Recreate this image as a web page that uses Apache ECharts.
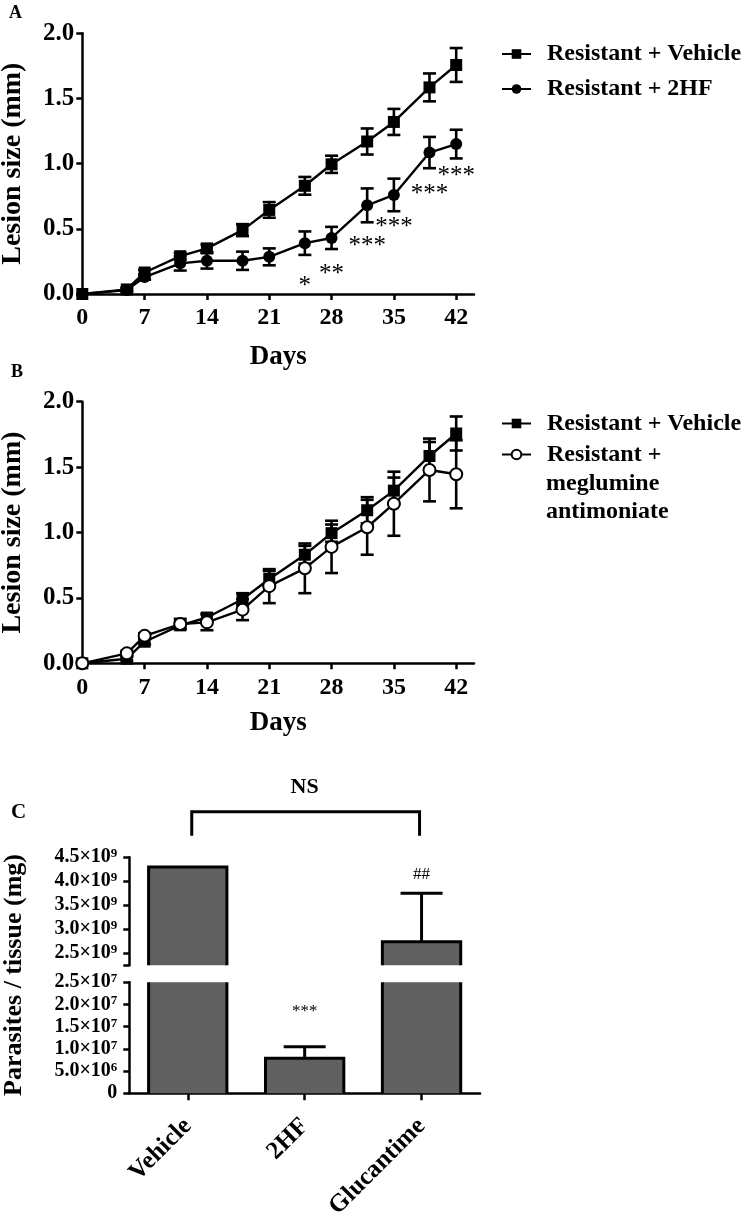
<!DOCTYPE html>
<html><head><meta charset="utf-8">
<script src="https://cdn.jsdelivr.net/npm/echarts@6/dist/echarts.min.js"></script>
<style>html,body{margin:0;padding:0;background:#fff}#c{width:750px;height:1213px}</style>
</head><body><div id="c"></div>
<script>
// ---------- data ----------
const days = [0, 5, 7, 11, 14, 18, 21, 25, 28, 32, 35, 39, 42];
const vehicleMean = [0, 0.035, 0.165, 0.29, 0.35, 0.49, 0.645, 0.83, 0.995, 1.17, 1.32, 1.585, 1.757];
const vehicleSem  = [0, 0.015, 0.02, 0.025, 0.03, 0.046, 0.06, 0.068, 0.066, 0.10, 0.10, 0.107, 0.13];
const hfMean = [0, 0.03, 0.13, 0.235, 0.255, 0.255, 0.285, 0.39, 0.43, 0.68, 0.76, 1.085, 1.15];
const hfSem  = [0, 0.01, 0.02, 0.055, 0.06, 0.07, 0.065, 0.09, 0.085, 0.13, 0.125, 0.12, 0.11];
const megMean = [0, 0.076, 0.21, 0.30, 0.313, 0.41, 0.59, 0.726, 0.89, 1.04, 1.22, 1.478, 1.445];
const megSem  = [0, 0.02, 0.02, 0.04, 0.06, 0.08, 0.13, 0.19, 0.20, 0.21, 0.245, 0.24, 0.26];
const dayTicks = [0, 7, 14, 21, 28, 35, 42];
const sigDays = [25, 28, 32, 35, 39, 42];
const sigMarks = ['*', '**', '***', '***', '***', '***'];
const sigLevels = [0.10, 0.19, 0.40, 0.55, 0.80, 0.94];

const barCats = ['Vehicle', '2HF', 'Glucantime'];
const barVals = [4.3e9, 7.9e6, 2.74e9];
const barErr  = [0, 2.6e6, 1.01e9];
const upperLabelTicks = [2.5e9, 3.0e9, 3.5e9, 4.0e9, 4.5e9];
const upperTickMarks = [2.25e9, 2.5e9, 3.0e9, 3.5e9, 4.0e9, 4.5e9];
const lowerTicks = [0, 5e6, 1e7, 1.5e7, 2e7, 2.5e7];
const nsPair = [0, 2];
const nsBarLevel = 5.45e9;
const nsLegLevel = 4.95e9;
const nsTextLevel = 5.96e9;
const hfMarkLevel = 1.91e7;
const glucMarkLevel = 4.15e9;

const NAME_VEH = 'Resistant + Vehicle';
const NAME_HF = 'Resistant + 2HF';
const NAME_MEG = 'Resistant + meglumine antimoniate';

// ---------- helpers ----------
const FF = 'Liberation Serif, Times New Roman, serif';
const K = '#000';

function errRender(params, api) {
  const x = api.value(0), y = api.value(1), e = api.value(2);
  if (!(e > 0)) return null;
  const hi = api.coord([x, y + e]), lo = api.coord([x, y - e]);
  const hw = 6.5;
  const st = { stroke: K, lineWidth: 2.6 };
  return { type: 'group', children: [
    { type: 'line', shape: { x1: hi[0], y1: hi[1], x2: lo[0], y2: lo[1] }, style: st },
    { type: 'line', shape: { x1: hi[0] - hw, y1: hi[1], x2: hi[0] + hw, y2: hi[1] }, style: st },
    { type: 'line', shape: { x1: lo[0] - hw, y1: lo[1], x2: lo[0] + hw, y2: lo[1] }, style: st }
  ]};
}
function errData(mean, sem) { return days.map((d, i) => [d, mean[i], sem[i]]); }
function lineData(mean) { return days.map((d, i) => [d, mean[i]]); }

function barRender(params, api) {
  const cs = params.coordSys;
  const i = api.value(0), v = api.value(1), e = api.value(2);
  const c = api.coord([i, v]);
  const bw = api.size([1, 0])[0] * 0.67;
  const L = c[0] - bw / 2, R = c[0] + bw / 2;
  const B = cs.y + cs.height, T0 = cs.y;
  if (c[1] >= B) return null;
  const cut = c[1] < T0;
  const T = cut ? T0 : c[1];
  const st = { stroke: K, lineWidth: 3, fill: null };
  const ch = [{ type: 'rect', shape: { x: L, y: T, width: bw, height: B - T }, style: { fill: '#606060' } }];
  if (cut) {
    ch.push({ type: 'line', shape: { x1: L, y1: T, x2: L, y2: B }, style: st });
    ch.push({ type: 'line', shape: { x1: R, y1: T, x2: R, y2: B }, style: st });
  } else {
    if (e > 0) {
      const t = api.coord([i, v + e]);
      const hw = 21;
      ch.push({ type: 'line', shape: { x1: c[0], y1: T, x2: c[0], y2: t[1] }, style: st });
      ch.push({ type: 'line', shape: { x1: c[0] - hw, y1: t[1], x2: c[0] + hw, y2: t[1] }, style: st });
    }
    ch.push({ type: 'polyline', shape: { points: [[L, B], [L, T], [R, T], [R, B]] }, style: st });
  }
  return { type: 'group', children: ch };
}
function barData() { return barVals.map((v, i) => [i, v, barErr[i]]); }

function bracketRender(params, api) {
  const a = api.coord([nsPair[0], nsBarLevel]);
  const b = api.coord([nsPair[1], nsBarLevel]);
  const l = api.coord([nsPair[0], nsLegLevel]);
  return { type: 'polyline', shape: { points: [[a[0] + 4, l[1]], [a[0] + 4, a[1]], [b[0] - 2, a[1]], [b[0] - 2, l[1]]] },
    style: { stroke: K, lineWidth: 3, fill: null } };
}

function sci(v) {
  if (v === 0) return '0';
  const e = Math.floor(Math.log10(v) + 1e-9);
  const m = v / Math.pow(10, e);
  return m.toFixed(1) + '×10{s|' + e + '}';
}

const axisLineStyle = { show: true, lineStyle: { color: K, width: 2.5 } };
const tickStyle = { show: true, length: 6, lineStyle: { color: K, width: 2.5 } };
const labelTxt = { color: K, fontFamily: FF, fontWeight: 'bold' };

function daysXAxis(gi, gap) {
  return {
    type: 'value', gridIndex: gi, min: 0, max: 44,
    axisLine: axisLineStyle,
    axisTick: Object.assign({}, tickStyle, { customValues: dayTicks }),
    axisLabel: Object.assign({}, labelTxt, { fontSize: 24, margin: 12, customValues: dayTicks }),
    splitLine: { show: false },
    name: 'Days', nameLocation: 'middle', nameGap: gap,
    nameTextStyle: { color: K, fontFamily: FF, fontWeight: 'bold', fontSize: 27 }
  };
}
function lesionYAxis(gi) {
  return {
    type: 'value', gridIndex: gi, min: 0, max: 2, interval: 0.5,
    axisLine: axisLineStyle, axisTick: tickStyle,
    axisLabel: Object.assign({}, labelTxt, { fontSize: 25, margin: 8, formatter: v => v.toFixed(1) }),
    splitLine: { show: false },
    name: 'Lesion size (mm)', nameLocation: 'middle', nameGap: 56,
    nameTextStyle: { color: K, fontFamily: FF, fontWeight: 'bold', fontSize: 28 }
  };
}
function legendCfg(top, names, gap, fmt) {
  return {
    orient: 'vertical', left: 501, top: top, padding: 0, itemWidth: 29, itemHeight: 12, itemGap: gap,
    data: names, formatter: fmt || (n => n), selectedMode: false,
    textStyle: { color: K, fontFamily: FF, fontWeight: 'bold', fontSize: 24, lineHeight: 25, padding: [0, 0, 0, 11] }
  };
}
const sciLabel = Object.assign({}, labelTxt, {
  fontSize: 20, margin: 12, lineHeight: 20, formatter: sci, interval: 0,
  showMinLabel: true, showMaxLabel: true, hideOverlap: false,
  rich: { s: { fontSize: 13, fontFamily: FF, fontWeight: 'bold', color: K, verticalAlign: 'top', lineHeight: 12 } }
});
const annotLabel = { show: true, position: 'inside', fontFamily: FF, color: K, textBorderWidth: 0, opacity: 1 };
const annotItem = { color: K, opacity: 1 };

const chart = echarts.init(document.getElementById('c'), null, { renderer: 'canvas' });
chart.setOption({
  animation: false,
  backgroundColor: '#fff',
  textStyle: { fontFamily: FF },
  title: [
    { text: 'A', left: 9, top: 4, padding: 0, textStyle: { fontFamily: FF, fontSize: 18, fontWeight: 'bold', color: K } },
    { text: 'B', left: 11, top: 363, padding: 0, textStyle: { fontFamily: FF, fontSize: 18, fontWeight: 'bold', color: K } },
    { text: 'C', left: 11, top: 802, padding: 0, textStyle: { fontFamily: FF, fontSize: 21, fontWeight: 'bold', color: K } }
  ],
  legend: [
    legendCfg(41.5, [NAME_VEH, NAME_HF], 10),
    legendCfg(411, [NAME_VEH, NAME_MEG], 6, n => n === NAME_MEG ? 'Resistant +' : n)
  ],
  graphic: [
    { type: 'text', left: 546, top: 472, style: { text: 'meglumine', font: 'bold 24px ' + FF, fill: K } },
    { type: 'text', left: 546, top: 500, style: { text: 'antimoniate', font: 'bold 24px ' + FF, fill: K } },
    { type: 'text', x: 14, y: 975, rotation: Math.PI / 2,
      style: { text: 'Parasites / tissue (mg)', font: 'bold 26px ' + FF, fill: K, align: 'center', verticalAlign: 'middle' } }
  ],
  grid: [
    { left: 82.3, right: 276, top: 33.3, height: 260.7, outerBoundsMode: 'none', containLabel: false },
    { left: 82.3, right: 276, top: 401.7, height: 261.6, outerBoundsMode: 'none', containLabel: false },
    { left: 129.3, right: 270, top: 857.3, height: 108, outerBoundsMode: 'none', containLabel: false },
    { left: 129.3, right: 270, top: 982.3, height: 111, outerBoundsMode: 'none', containLabel: false }
  ],
  xAxis: [
    daysXAxis(0, 50), daysXAxis(1, 46),
    { type: 'category', gridIndex: 2, data: barCats, show: false },
    { type: 'category', gridIndex: 3, data: barCats,
      axisLine: axisLineStyle,
      axisTick: { show: true, alignWithLabel: true, length: 7, lineStyle: { color: K, width: 2.5 } },
      axisLabel: Object.assign({}, labelTxt, { fontSize: 25, rotate: 45, margin: 29, interval: 0 }) }
  ],
  yAxis: [
    lesionYAxis(0), lesionYAxis(1),
    { type: 'value', gridIndex: 2, min: 2.25e9, max: 4.5e9,
      axisLine: axisLineStyle,
      axisTick: Object.assign({}, tickStyle, { customValues: upperTickMarks }),
      axisLabel: Object.assign({}, sciLabel, { customValues: upperLabelTicks }),
      splitLine: { show: false } },
    { type: 'value', gridIndex: 3, min: 0, max: 2.5e7,
      axisLine: axisLineStyle,
      axisTick: Object.assign({}, tickStyle, { customValues: lowerTicks }),
      axisLabel: Object.assign({}, sciLabel, { customValues: lowerTicks }),
      splitLine: { show: false } }
  ],
  series: [
    // Panel A
    { type: 'custom', xAxisIndex: 0, yAxisIndex: 0, renderItem: errRender, data: errData(vehicleMean, vehicleSem), encode: { x: 0, y: 1 }, z: 2 },
    { type: 'custom', xAxisIndex: 0, yAxisIndex: 0, renderItem: errRender, data: errData(hfMean, hfSem), encode: { x: 0, y: 1 }, z: 2 },
    { name: NAME_VEH, type: 'line', xAxisIndex: 0, yAxisIndex: 0, data: lineData(vehicleMean),
      symbol: 'rect', symbolSize: 12, itemStyle: { color: K }, lineStyle: { color: K, width: 2.4 }, z: 3 },
    { name: NAME_HF, type: 'line', xAxisIndex: 0, yAxisIndex: 0, data: lineData(hfMean),
      symbol: 'circle', symbolSize: 12, itemStyle: { color: K }, lineStyle: { color: K, width: 2.4 }, z: 3 },
    { type: 'scatter', xAxisIndex: 0, yAxisIndex: 0, symbolSize: 0, clip: false, silent: true,
      itemStyle: annotItem,
      data: sigDays.map((d, i) => [d, sigLevels[i]]),
      label: Object.assign({}, annotLabel, { offset: [0, 5], formatter: p => sigMarks[p.dataIndex], fontSize: 25 }) },
    // Panel B
    { type: 'custom', xAxisIndex: 1, yAxisIndex: 1, renderItem: errRender, data: errData(vehicleMean, vehicleSem), encode: { x: 0, y: 1 }, z: 2 },
    { type: 'custom', xAxisIndex: 1, yAxisIndex: 1, renderItem: errRender, data: errData(megMean, megSem), encode: { x: 0, y: 1 }, z: 2 },
    { name: NAME_VEH, type: 'line', xAxisIndex: 1, yAxisIndex: 1, data: lineData(vehicleMean),
      symbol: 'rect', symbolSize: 12, itemStyle: { color: K }, lineStyle: { color: K, width: 2.4 }, z: 3 },
    { name: NAME_MEG, type: 'line', xAxisIndex: 1, yAxisIndex: 1, data: lineData(megMean),
      symbol: 'emptyCircle', symbolSize: 12, itemStyle: { color: K, borderWidth: 2.5, borderColor: K }, lineStyle: { color: K, width: 2.4 }, z: 4 },
    // Panel C
    { type: 'custom', xAxisIndex: 2, yAxisIndex: 2, renderItem: barRender, data: barData(), encode: { x: 0, y: 1 } },
    { type: 'custom', xAxisIndex: 3, yAxisIndex: 3, renderItem: barRender, data: barData(), encode: { x: 0, y: 1 } },
    { type: 'custom', xAxisIndex: 2, yAxisIndex: 2, renderItem: bracketRender, data: [[nsPair[0], nsBarLevel]], encode: { x: 0, y: 1 } },
    { type: 'scatter', xAxisIndex: 2, yAxisIndex: 2, symbolSize: 0, clip: false, silent: true, itemStyle: annotItem,
      data: [[1, nsTextLevel]],
      label: Object.assign({}, annotLabel, { formatter: 'NS', fontSize: 22, fontWeight: 'bold' }) },
    { type: 'scatter', xAxisIndex: 2, yAxisIndex: 2, symbolSize: 0, clip: false, silent: true, itemStyle: annotItem,
      data: [[2, glucMarkLevel]],
      label: Object.assign({}, annotLabel, { formatter: '##', fontSize: 17 }) },
    { type: 'scatter', xAxisIndex: 3, yAxisIndex: 3, symbolSize: 0, clip: false, silent: true, itemStyle: annotItem,
      data: [[1, hfMarkLevel]],
      label: Object.assign({}, annotLabel, { offset: [0, 3], formatter: '***', fontSize: 17 }) }
  ]
});
</script>
</body></html>
